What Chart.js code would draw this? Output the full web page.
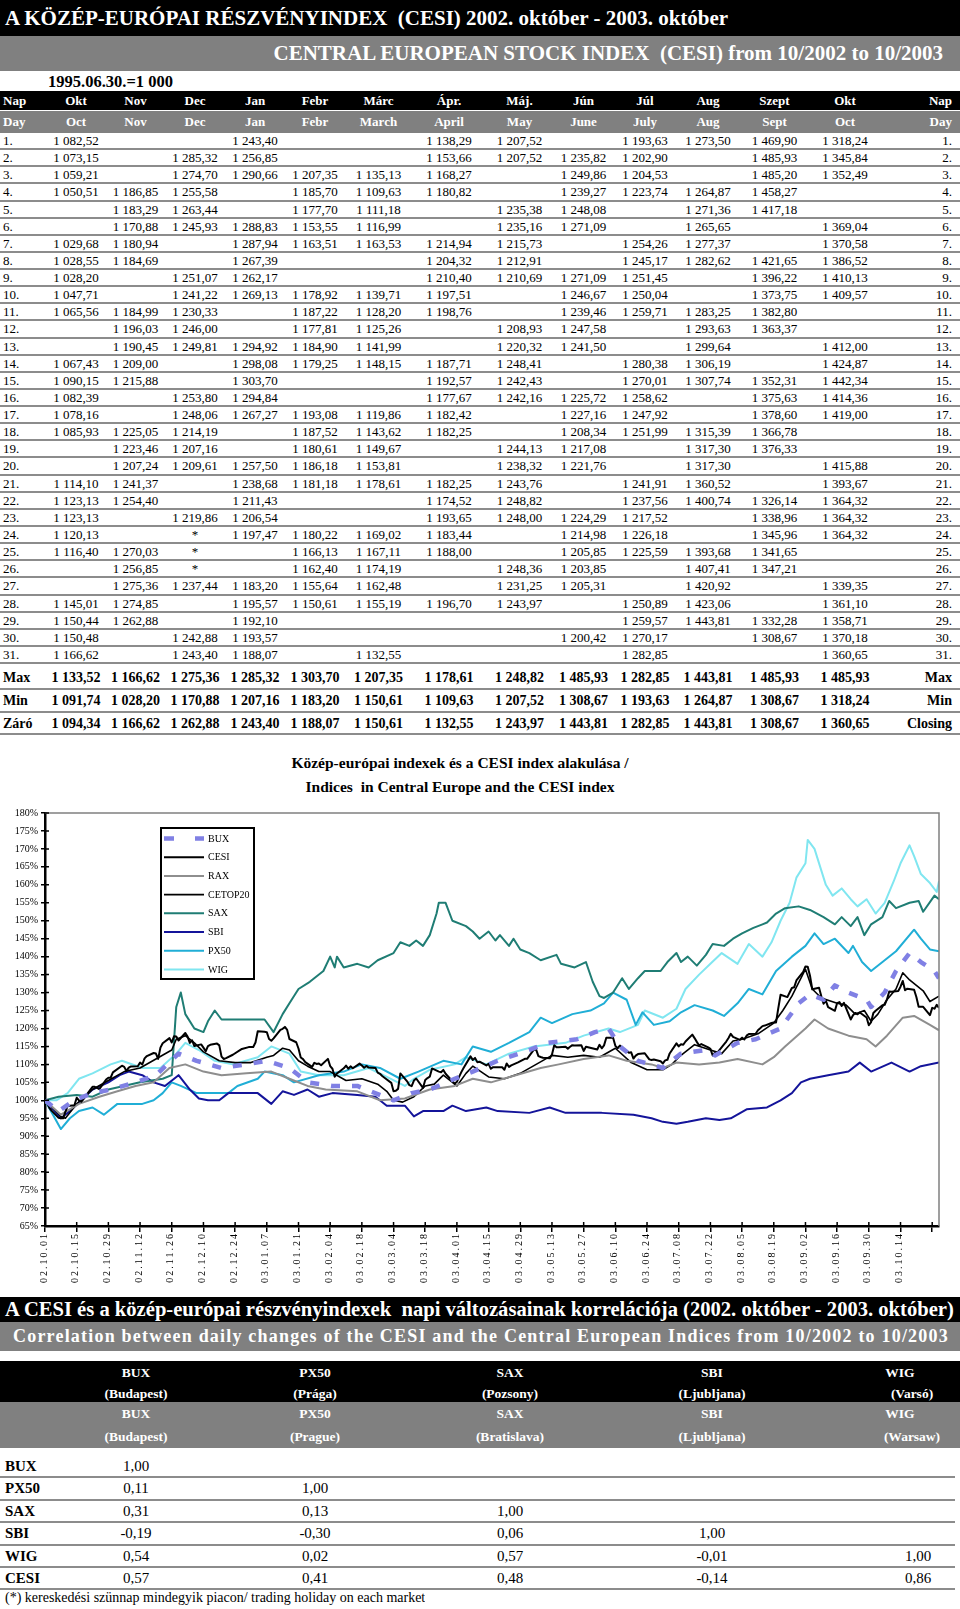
<!DOCTYPE html>
<html lang="hu">
<head>
<meta charset="utf-8">
<title>CESI 2002-2003</title>
<script src="https://cdn.jsdelivr.net/npm/chart.js@4.4.1/dist/chart.umd.min.js"></script>
<style>
  html, body { margin: 0; padding: 0; background: #fff; }
  body { width: 960px; height: 1609px; position: relative; overflow: hidden; font-family: 'Liberation Serif', 'Times New Roman', serif; color: #000; }
  .abs { position: absolute; box-sizing: border-box; white-space: nowrap; overflow: hidden; }
  .black { background: #000; color: #fff; font-weight: bold; }
  .grey { background: #808080; color: #fff; font-weight: bold; }
  .row { position: absolute; left: 0; width: 960px; display: flex; box-sizing: border-box; }
  .row.ruled { border-bottom: 2px solid #8c8c8c; }
  .row span { display: block; flex: none; text-align: center; white-space: nowrap; box-sizing: border-box; }
  .row span.first { text-align: left; padding-left: 3px; }
  .row span.last { text-align: right; padding-right: 8px; }
  .cell { position: absolute; transform: translateX(-50%); white-space: nowrap; }
</style>
</head>
<body>
<div class="abs black" style="left:0;top:0;width:960px;height:36px;font-size:21px;line-height:36px;padding-left:5px">A KÖZÉP-EURÓPAI RÉSZVÉNYINDEX&nbsp; (CESI) 2002. október - 2003. október</div>
<div class="abs grey" style="left:0;top:36px;width:960px;height:35px;font-size:21px;line-height:35px;text-align:right;padding-right:17px">CENTRAL EUROPEAN STOCK INDEX&nbsp; (CESI) from 10/2002 to 10/2003</div>
<div class="abs" style="left:48px;top:72px;font-size:16.5px;font-weight:bold;line-height:20px">1995.06.30.=1 000</div>
<div id="table"></div>

<div class="abs" style="left:0;top:753px;width:920px;text-align:center;font-size:15.5px;font-weight:bold;line-height:20px">Közép-európai indexek és a CESI index alakulása /</div>
<div class="abs" style="left:0;top:777px;width:920px;text-align:center;font-size:15.5px;font-weight:bold;line-height:20px">Indices&nbsp; in Central Europe and the CESI index</div>
<canvas id="chart" width="960" height="492" style="position:absolute;left:0;top:800px"></canvas>

<div class="abs black" style="left:0;top:1297px;width:960px;height:25px;font-size:20.6px;line-height:25px;padding-left:5px">A CESI és a közép-európai részvényindexek&nbsp; napi változásainak korrelációja (2002. október - 2003. október)</div>
<div class="abs grey" style="left:0;top:1322px;width:960px;height:29px;font-size:18px;line-height:29px;padding-left:13px;letter-spacing:1.2px">Correlation between daily changes of the CESI and the Central European Indices from 10/2002 to 10/2003</div>
<div id="corr"></div>
<div class="abs" style="left:5px;top:1590px;font-size:14px;line-height:16px">(*) kereskedési szünnap mindegyik piacon/ trading holiday on each market</div>

<script>
// --- CESI napi értékek (táblázat) ---
const monthsHu = ['Okt', 'Nov', 'Dec', 'Jan', 'Febr', 'Márc', 'Ápr.', 'Máj.', 'Jún', 'Júl', 'Aug', 'Szept', 'Okt'];
const monthsEn = ['Oct', 'Nov', 'Dec', 'Jan', 'Febr', 'March', 'April', 'May', 'June', 'July', 'Aug', 'Sept', 'Oct'];

const okt02 = [1082.52, 1073.15, 1059.21, 1050.51, null, null, 1029.68, 1028.55, 1028.20, 1047.71, 1065.56, null, null, 1067.43, 1090.15, 1082.39, 1078.16, 1085.93, null, null, 1114.10, 1123.13, 1123.13, 1120.13, 1116.40, null, null, 1145.01, 1150.44, 1150.48, 1166.62];
const nov02 = [null, null, null, 1186.85, 1183.29, 1170.88, 1180.94, 1184.69, null, null, 1184.99, 1196.03, 1190.45, 1209.00, 1215.88, null, null, 1225.05, 1223.46, 1207.24, 1241.37, 1254.40, null, null, 1270.03, 1256.85, 1275.36, 1274.85, 1262.88, null, null];
const dec02 = [null, 1285.32, 1274.70, 1255.58, 1263.44, 1245.93, null, null, 1251.07, 1241.22, 1230.33, 1246.00, 1249.81, null, null, 1253.80, 1248.06, 1214.19, 1207.16, 1209.61, null, null, 1219.86, '*', '*', '*', 1237.44, null, null, 1242.88, 1243.40];
const jan03 = [1243.40, 1256.85, 1290.66, null, null, 1288.83, 1287.94, 1267.39, 1262.17, 1269.13, null, null, 1294.92, 1298.08, 1303.70, 1294.84, 1267.27, null, null, 1257.50, 1238.68, 1211.43, 1206.54, 1197.47, null, null, 1183.20, 1195.57, 1192.10, 1193.57, 1188.07];
const feb03 = [null, null, 1207.35, 1185.70, 1177.70, 1153.55, 1163.51, null, null, 1178.92, 1187.22, 1177.81, 1184.90, 1179.25, null, null, 1193.08, 1187.52, 1180.61, 1186.18, 1181.18, null, null, 1180.22, 1166.13, 1162.40, 1155.64, 1150.61, null, null, null];
const mar03 = [null, null, 1135.13, 1109.63, 1111.18, 1116.99, 1163.53, null, null, 1139.71, 1128.20, 1125.26, 1141.99, 1148.15, null, null, 1119.86, 1143.62, 1149.67, 1153.81, 1178.61, null, null, 1169.02, 1167.11, 1174.19, 1162.48, 1155.19, null, null, 1132.55];
const apr03 = [1138.29, 1153.66, 1168.27, 1180.82, null, null, 1214.94, 1204.32, 1210.40, 1197.51, 1198.76, null, null, 1187.71, 1192.57, 1177.67, 1182.42, 1182.25, null, null, 1182.25, 1174.52, 1193.65, 1183.44, 1188.00, null, null, 1196.70, null, null, null];
const may03 = [1207.52, 1207.52, null, null, 1235.38, 1235.16, 1215.73, 1212.91, 1210.69, null, null, 1208.93, 1220.32, 1248.41, 1242.43, 1242.16, null, null, 1244.13, 1238.32, 1243.76, 1248.82, 1248.00, null, null, 1248.36, 1231.25, 1243.97, null, null, null];
const jun03 = [null, 1235.82, 1249.86, 1239.27, 1248.08, 1271.09, null, null, 1271.09, 1246.67, 1239.46, 1247.58, 1241.50, null, null, 1225.72, 1227.16, 1208.34, 1217.08, 1221.76, null, null, 1224.29, 1214.98, 1205.85, 1203.85, 1205.31, null, null, 1200.42, null];
const jul03 = [1193.63, 1202.90, 1204.53, 1223.74, null, null, 1254.26, 1245.17, 1251.45, 1250.04, 1259.71, null, null, 1280.38, 1270.01, 1258.62, 1247.92, 1251.99, null, null, 1241.91, 1237.56, 1217.52, 1226.18, 1225.59, null, null, 1250.89, 1259.57, 1270.17, 1282.85];
const aug03 = [1273.50, null, null, 1264.87, 1271.36, 1265.65, 1277.37, 1282.62, null, null, 1283.25, 1293.63, 1299.64, 1306.19, 1307.74, null, null, 1315.39, 1317.30, 1317.30, 1360.52, 1400.74, null, null, 1393.68, 1407.41, 1420.92, 1423.06, 1443.81, null, null];
const sep03 = [1469.90, 1485.93, 1485.20, 1458.27, 1417.18, null, null, 1421.65, 1396.22, 1373.75, 1382.80, 1363.37, null, null, 1352.31, 1375.63, 1378.60, 1366.78, 1376.33, null, null, 1326.14, 1338.96, 1345.96, 1341.65, 1347.21, null, null, 1332.28, 1308.67, null];
const okt03 = [1318.24, 1345.84, 1352.49, null, null, 1369.04, 1370.58, 1386.52, 1410.13, 1409.57, null, null, 1412.00, 1424.87, 1442.34, 1414.36, 1419.00, null, null, 1415.88, 1393.67, 1364.32, 1364.32, 1364.32, null, null, 1339.35, 1361.10, 1358.71, 1370.18, 1360.65];

const maxRow = [1133.52, 1166.62, 1275.36, 1285.32, 1303.70, 1207.35, 1178.61, 1248.82, 1485.93, 1282.85, 1443.81, 1485.93, 1485.93];
const minRow = [1091.74, 1028.20, 1170.88, 1207.16, 1183.20, 1150.61, 1109.63, 1207.52, 1308.67, 1193.63, 1264.87, 1308.67, 1318.24];
const closeRow = [1094.34, 1166.62, 1262.88, 1243.40, 1188.07, 1150.61, 1132.55, 1243.97, 1443.81, 1282.85, 1443.81, 1308.67, 1360.65];

// --- grafikon: a többi index, 2002.10.01 = 100%, [nap, %] ---
const buxPoints = [[0,100],[6,97],[13,100],[21,102],[29,103],[40,105],[49,107],[59,113],[67,111],[78,109],[89,110],[98,111],[108,109],[116,105],[127,104],[138,104],[154,100],[162,102],[170,103],[181,106],[189,108],[200,111],[214,114],[222,116],[235,117],[243,119],[249,120],[254,115],[262,111],[273,109],[281,113],[292,114],[296,112.5],[306,116],[314,117],[325,120],[333,127],[338,129.5],[344,128],[349,132],[355,130],[363,128],[365,126],[371,130],[376,136],[382,141],[387,138.5],[393,136],[395,134]];
const raxPoints = [[0,100],[7,96],[15,99],[24,101],[32,102.5],[40,104],[48,105],[55,109],[62,110],[70,108],[78,107],[89,107.5],[100,108],[108,106],[116,104],[124,103],[138,102.5],[148,100],[159,100.5],[170,103],[181,104],[189,106],[197,105],[208,107],[219,109],[227,110],[238,111.5],[249,112.5],[257,111],[268,110],[273,109],[279,110.5],[289,110],[298,110.5],[306,111.5],[317,110],[322,112],[327,115],[336,120],[340,122.5],[346,120],[355,118],[363,117],[367,115],[372,118],[379,123],[384,123.5],[391,121],[395,119.5]];
const cetopPoints = [[0,100],[4,97.5],[7,95.5],[9,95],[14,99],[21,103],[28,105.5],[35,108],[42,109],[49,111.5],[56,114],[58,117],[62,118],[66,116],[70,113.5],[77,111],[84,110.5],[91,110.5],[98,112],[101,112.5],[105,114.5],[108,114],[112,111],[116,109.5],[121,108],[126,108],[133,105.5],[140,106],[147,104.5],[151,102.5],[154,100],[158,99.5],[163,101],[168,104],[172,104.5],[176,107],[182,104],[186,107.5],[189,109.5],[196,106.5],[203,106],[210,107.5],[217,110],[224,112.5],[231,112],[238,112.5],[245,112],[252,114.5],[259,110.5],[266,108.5],[273,108.5],[277,110],[280,112],[287,115.5],[294,114],[299,113],[304,116.5],[308,117],[315,118.5],[322,121.5],[326,125],[330,129],[334,134],[336,136.5],[339,131],[343,128.5],[350,127],[354,126.5],[358,124],[362,125],[365,122],[368,124],[372,128],[376,131],[379,135.5],[382,133.5],[385,132],[388,130.5],[391,127.5],[395,129]];
const saxPoints = [[0,100],[6,101],[14,101.5],[21,101],[28,103],[42,105],[52,106],[56,107],[58,126],[60,130],[62,124],[66,120],[70,119],[72,122],[75,125],[78,122.5],[97,122.5],[101,119],[105,124],[108,127],[112,131],[117,133],[123,136],[126,140],[128,137],[129,140],[132,137],[138,138],[143,137],[147,139],[154,141],[157,144],[161,143],[164,144.5],[167,143],[170,146],[173,152],[174,155],[177,155],[180,150],[186,148.5],[189,147],[192,145],[196,147],[199,144.5],[201,146],[205,143],[207,145],[210,142],[214,141],[219,139],[226,140.5],[228,138],[234,137],[239,138.5],[242,133],[245,129],[247,128.5],[251,130],[255,134],[258,131],[262,134],[265,136],[272,136],[275,138.5],[279,141],[281,138.5],[284,140],[288,137.5],[292,140.5],[295,143.5],[300,143],[304,145],[308,146.5],[313,148],[317,149],[319,149.5],[323,152],[327,153.5],[333,154],[338,153],[344,151],[349,149],[352,151],[356,148.5],[359,151],[362,146],[365,149],[370,151],[373,155.5],[376,153.5],[382,155],[386,155.5],[388,152.5],[393,157],[395,156]];
const sbiPoints = [[0,100],[7,95],[11,97],[16,100],[21,103],[28,105],[33,107],[37,108],[43,107],[48,105],[53,104],[59,107],[64,103],[68,100.5],[72,100],[77,100],[81,102],[94,102],[100,99],[105,102.5],[110,101.5],[116,103],[121,101],[127,102],[138,101.5],[146,101],[151,98.5],[159,98.5],[163,95.5],[167,97],[176,97],[180,98.5],[186,97],[195,98],[200,97],[214,96.5],[223,98],[230,96.5],[246,96.5],[260,96],[268,95],[273,94],[279,93.5],[284,94],[292,95],[298,94.5],[303,95],[310,97.5],[319,98],[325,100],[330,102],[334,105],[338,106],[346,107],[355,108],[360,110.5],[365,108],[374,110.5],[382,108],[387,109.5],[395,110.5]];
const pxPoints = [[0,100],[7,92],[11,95],[15,97],[21,98],[26,96],[32,99],[43,99],[48,100],[52,102],[56,105],[60,104],[67,102],[81,102],[85,104],[94,106],[97,108],[105,107],[110,105],[121,107],[132,108],[140,110],[148,109],[157,106],[165,108],[176,111],[184,110],[189,115],[197,113.5],[205,116],[214,119],[219,123],[224,121.5],[233,124],[241,125],[247,127],[251,130],[257,128],[261,121],[264,124.5],[269,121],[276,122],[281,124.5],[287,126.5],[295,125],[300,123.5],[306,127],[311,131],[317,129.5],[323,136],[330,140],[336,143],[340,146.5],[344,143.5],[349,145],[355,141],[357,143],[361,138.5],[365,136],[371,139],[376,141.5],[384,147.5],[387,145],[391,142],[395,141.5]];
const wigPoints = [[0,100],[5,100],[10,102],[15,106],[21,107.5],[29,110],[34,111],[43,109],[51,109],[58,113],[62,116],[68,114],[75,111],[83,110],[94,112],[100,115],[108,113],[113,108],[121,107],[132,107],[143,109],[151,106.5],[159,104],[163,106],[170,108.5],[181,110],[186,112],[195,110],[205,113],[216,115],[230,116],[238,118],[249,120],[254,119],[262,121],[265,125],[273,123],[279,125.5],[283,131],[289,135],[294,138],[299,141],[306,138],[311,143.5],[317,140],[321,144],[325,150],[329,155],[332,162],[336,166],[337,172.5],[340,170],[345,160],[348,157],[352,159],[356,156],[359,154],[363,156],[367,152],[371,155],[375,161],[378,166],[382,171],[384,168],[387,163],[391,160.5],[394,158],[395,161]];

const tickDays = [0,14,28,42,56,70,84,98,112,126,140,154,168,182,196,210,224,238,252,266,280,294,308,322,336,350,364,378,392];
const xTickLabels = ['02.10.01','02.10.15','02.10.29','02.11.12','02.11.26','02.12.10','02.12.24','03.01.07','03.01.21','03.02.04','03.02.18','03.03.04','03.03.18','03.04.01','03.04.15','03.04.29','03.05.13','03.05.27','03.06.10','03.06.24','03.07.08','03.07.22','03.08.05','03.08.19','03.09.02','03.09.16','03.09.30','03.10.14',''];

// --- korreláció ---
const corrCols = ['BUX', 'PX50', 'SAX', 'SBI', 'WIG'];
const corrCitiesHu = ['(Budapest)', '(Prága)', '(Pozsony)', '(Ljubljana)', '(Varsó)'];
const corrCitiesEn = ['(Budapest)', '(Prague)', '(Bratislava)', '(Ljubljana)', '(Warsaw)'];
const corrRows = ['BUX', 'PX50', 'SAX', 'SBI', 'WIG', 'CESI'];
const corrValues = [[1.00], [0.11, 1.00], [0.31, 0.13, 1.00], [-0.19, -0.30, 0.06, 1.00], [0.54, 0.02, 0.57, -0.01, 1.00], [0.57, 0.41, 0.48, -0.14, 0.86]];

// ---------------------------------------------------------------
const months = [okt02, nov02, dec02, jan03, feb03, mar03, apr03, may03, jun03, jul03, aug03, sep03, okt03];
const monthStart = [[2002,9],[2002,10],[2002,11],[2003,0],[2003,1],[2003,2],[2003,3],[2003,4],[2003,5],[2003,6],[2003,7],[2003,8],[2003,9]];

const fmt = v => {
    if (v === null) return '';
    if (v === '*') return '*';
    const [i, d] = v.toFixed(2).split('.');
    return i.replace(/\B(?=(\d{3})+(?!\d))/g, ' ') + ',' + d;
};

// táblázat
const colW = [46, 60, 59, 60, 60, 60, 67, 74, 67, 61, 62, 64, 69, 72, 79];
const table = document.getElementById('table');

function addRow(top, height, cells, cls, style) {
    const row = document.createElement('div');
    row.className = 'row ' + cls;
    row.style.top = top + 'px';
    row.style.height = height + 'px';
    Object.assign(row.style, style);
    cells.forEach((txt, i) => {
        const s = document.createElement('span');
        s.style.width = colW[i] + 'px';
        if (i === 0) s.className = 'first';
        if (i === cells.length - 1) s.className = 'last';
        s.textContent = txt;
        row.appendChild(s);
    });
    table.appendChild(row);
}

addRow(91, 19, ['Nap', ...monthsHu, 'Nap'], 'black', { fontSize: '13px', lineHeight: '19px' });
addRow(111, 22, ['Day', ...monthsEn, 'Day'], 'grey', { fontSize: '13px', lineHeight: '22px' });
for (let r = 0; r < 31; r++) {
    addRow(133 + r * 17.13, 17.13, [(r + 1) + '.', ...months.map(m => fmt(m[r])), (r + 1) + '.'], 'ruled',
        { fontSize: '13px', lineHeight: '15px' });
}
const sumStyle = { fontSize: '14px', fontWeight: 'bold', lineHeight: '21px' };
addRow(667, 23, ['Max', ...maxRow.map(fmt), 'Max'], 'ruled', sumStyle);
addRow(690, 22.5, ['Min', ...minRow.map(fmt), 'Min'], 'ruled', sumStyle);
addRow(712.5, 22.5, ['Záró', ...closeRow.map(fmt), 'Closing'], 'ruled', sumStyle);

// korrelációs táblázat
const corr = document.getElementById('corr');
const hdrX1 = [136, 315, 510, 712, 900];
const hdrX2 = [136, 315, 510, 712, 912];
const valX = [136, 315, 510, 712, 918];

function box(top, height, cls) {
    const d = document.createElement('div');
    d.className = 'abs ' + cls;
    Object.assign(d.style, { left: '0px', top: top + 'px', width: '960px', height: height + 'px' });
    corr.appendChild(d);
    return d;
}
function put(parent, x, y, txt, style) {
    const s = document.createElement('div');
    s.className = 'cell';
    s.textContent = txt;
    Object.assign(s.style, { left: x + 'px', top: y + 'px' }, style);
    parent.appendChild(s);
}
const hb = box(1361, 41, 'black');
const hg = box(1402, 46, 'grey');
corrCols.forEach((c, i) => {
    put(hb, hdrX1[i], 4, c, { fontSize: '13.5px', lineHeight: '16px' });
    put(hb, hdrX2[i], 25, corrCitiesHu[i], { fontSize: '13.5px', lineHeight: '16px' });
    put(hg, hdrX1[i], 4, c, { fontSize: '13.5px', lineHeight: '16px' });
    put(hg, hdrX2[i], 27, corrCitiesEn[i], { fontSize: '13.5px', lineHeight: '16px' });
});
corrRows.forEach((name, r) => {
    const top = 1456 + r * 22.4;
    const row = document.createElement('div');
    row.className = 'abs';
    Object.assign(row.style, { left: '0px', top: top + 'px', width: '955px', height: '22.4px', borderBottom: '2px solid #8c8c8c', overflow: 'visible' });
    const lab = document.createElement('div');
    Object.assign(lab.style, { position: 'absolute', left: '5px', top: '2px', fontSize: '15px', fontWeight: 'bold', lineHeight: '17px' });
    lab.textContent = name;
    row.appendChild(lab);
    (corrValues[r] || []).forEach((v, i) => {
        put(row, valX[i], 2, v.toFixed(2).replace('.', ','), { fontSize: '15px', lineHeight: '17px' });
    });
    corr.appendChild(row);
});

// grafikon adatsorai
const dayMs = 86400000;
const t0 = Date.UTC(2002, 9, 1);
const cesiBase = okt02[0];
const cesiPoints = [];
months.forEach((arr, m) => arr.forEach((v, d) => {
    if (typeof v === 'number') {
        const [yy, mm] = monthStart[m];
        cesiPoints.push([(Date.UTC(yy, mm, d + 1) - t0) / dayMs, v / cesiBase * 100]);
    }
}));

const toXY = pts => pts.map(p => ({ x: p[0], y: p[1] }));
const datasets = [
    { label: 'BUX', data: toXY(buxPoints), borderColor: '#8080E4', borderWidth: 4.5, borderDash: [9, 12], legendDash: [10, 21] },
    { label: 'CESI', data: toXY(cesiPoints), borderColor: '#000000', borderWidth: 2 },
    { label: 'RAX', data: toXY(raxPoints), borderColor: '#8E8E8E', borderWidth: 2 },
    { label: 'CETOP20', data: toXY(cetopPoints), borderColor: '#000000', borderWidth: 1.6 },
    { label: 'SAX', data: toXY(saxPoints), borderColor: '#1F7D74', borderWidth: 2 },
    { label: 'SBI', data: toXY(sbiPoints), borderColor: '#14149A', borderWidth: 2 },
    { label: 'PX50', data: toXY(pxPoints), borderColor: '#20AED6', borderWidth: 2 },
    { label: 'WIG', data: toXY(wigPoints), borderColor: '#80E6F0', borderWidth: 2 }
];

const serif = "'Liberation Serif', 'Times New Roman', serif";
Chart.defaults.font.family = serif;

// keret, belső osztásjelek, x feliratok, jelmagyarázat
const framePlugin = {
    id: 'frame',
    afterDraw(chart) {
        const { ctx, chartArea: a, scales: { x, y } } = chart;
        ctx.save();
        ctx.strokeStyle = '#808080';
        ctx.lineWidth = 1.5;
        ctx.beginPath();
        ctx.moveTo(a.left, a.top);
        ctx.lineTo(a.right, a.top);
        ctx.lineTo(a.right, a.bottom);
        ctx.stroke();

        ctx.strokeStyle = '#000';
        ctx.lineWidth = 1.5;
        ctx.beginPath();
        y.ticks.forEach(t => {
            const py = y.getPixelForValue(t.value);
            ctx.moveTo(a.left, py);
            ctx.lineTo(a.left + 4, py);
        });
        x.ticks.forEach(t => {
            const px = x.getPixelForValue(t.value);
            ctx.moveTo(px, a.bottom);
            ctx.lineTo(px, a.bottom - 4);
        });
        ctx.stroke();

        ctx.fillStyle = '#000';
        ctx.font = '10px ' + serif;
        if ('letterSpacing' in ctx) ctx.letterSpacing = '2px';
        ctx.textAlign = 'right';
        ctx.textBaseline = 'middle';
        tickDays.forEach((d, i) => {
            if (!xTickLabels[i]) return;
            ctx.save();
            ctx.translate(x.getPixelForValue(d) - 1, a.bottom + 6);
            ctx.rotate(-Math.PI / 2);
            ctx.fillText(xTickLabels[i], 0, 0);
            ctx.restore();
        });
        if ('letterSpacing' in ctx) ctx.letterSpacing = '0px';

        // jelmagyarázat
        const lx = 161, ly = 28, lw = 93, lh = 151;
        ctx.fillStyle = '#fff';
        ctx.fillRect(lx, ly, lw, lh);
        ctx.strokeStyle = '#000';
        ctx.lineWidth = 2;
        ctx.strokeRect(lx, ly, lw, lh);
        ctx.textAlign = 'left';
        ctx.font = '10px ' + serif;
        chart.data.datasets.forEach((ds, i) => {
            const cy = ly + 10.5 + i * 18.7;
            ctx.strokeStyle = ds.borderColor;
            ctx.lineWidth = ds.borderWidth;
            ctx.setLineDash(ds.legendDash || []);
            ctx.beginPath();
            ctx.moveTo(lx + 3, cy);
            ctx.lineTo(lx + 43, cy);
            ctx.stroke();
            ctx.setLineDash([]);
            ctx.fillStyle = '#000';
            ctx.fillText(ds.label, lx + 47, cy + 0.5);
        });
        ctx.restore();
    }
};

new Chart(document.getElementById('chart'), {
    type: 'line',
    data: { datasets },
    options: {
        responsive: false,
        animation: false,
        layout: { padding: { top: 13, right: 21, left: 0, bottom: 0 } },
        plugins: { legend: { display: false }, tooltip: { enabled: false } },
        elements: { point: { radius: 0 }, line: { tension: 0, borderJoinStyle: 'round' } },
        scales: {
            x: {
                type: 'linear',
                min: 0,
                max: 395,
                afterBuildTicks: s => { s.ticks = tickDays.map(v => ({ value: v })); },
                afterFit: s => { s.height = 66; },
                ticks: { display: false },
                grid: { drawOnChartArea: false, drawTicks: true, tickLength: 6, color: '#000', lineWidth: 1.5 },
                border: { display: true, color: '#000', width: 2.5 }
            },
            y: {
                min: 65,
                max: 180,
                afterFit: s => { s.width = 45; },
                ticks: { stepSize: 5, autoSkip: false, padding: 3, color: '#000', font: { size: 10 }, callback: v => v + '%' },
                grid: { drawOnChartArea: false, drawTicks: true, tickLength: 4, color: '#000', lineWidth: 1.5 },
                border: { display: true, color: '#000', width: 2.5 }
            }
        }
    },
    plugins: [framePlugin]
});
</script>
</body>
</html>
